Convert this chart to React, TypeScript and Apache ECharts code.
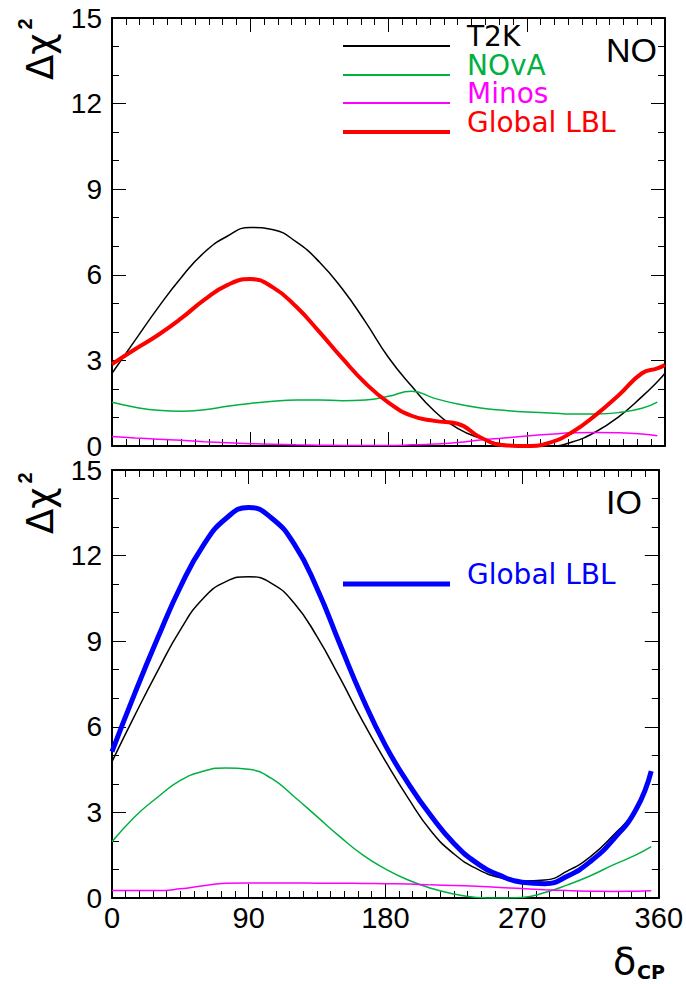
import React, { useEffect, useRef } from "react";
import * as echarts from "echarts";

// delta_CP grid (degrees)
const deltaCP = [0, 15, 30, 45, 60, 75, 90, 105, 120, 135, 150, 165, 180, 195, 210, 225, 240, 255, 270, 285, 300, 315, 330, 345, 355, 360];

// Normal ordering (top panel)
const noT2K = [2.55, 3.7, 4.85, 5.9, 6.78, 7.35, 7.66, 7.58, 7.15, 6.45, 5.5, 4.35, 3.1, 2.1, 1.22, 0.62, 0.27, 0.06, 0.0, 0.0, 0.15, 0.50, 1.03, 1.73, 2.25, 2.55];
const noNOvA = [1.53, 1.36, 1.25, 1.22, 1.27, 1.39, 1.49, 1.57, 1.61, 1.61, 1.59, 1.61, 1.74, 1.92, 1.67, 1.47, 1.33, 1.25, 1.19, 1.16, 1.12, 1.12, 1.17, 1.32, 1.54, null];
const noMinos = [0.33, 0.28, 0.24, 0.2, 0.15, 0.11, 0.08, 0.06, 0.04, 0.03, 0.02, 0.02, 0.02, 0.04, 0.07, 0.12, 0.21, 0.28, 0.35, 0.41, 0.46, 0.47, 0.46, 0.42, 0.36, null];
const noGlobal = [2.87, 3.39, 3.89, 4.47, 5.12, 5.64, 5.85, 5.55, 4.88, 4.0, 3.07, 2.2, 1.52, 1.06, 0.88, 0.78, 0.3, 0.03, 0.0, 0.12, 0.50, 1.09, 1.79, 2.55, 2.72, 2.84];

// Inverted ordering (bottom panel)
const ioT2K = [4.78, 6.4, 7.95, 9.4, 10.5, 11.09, 11.26, 11.03, 10.33, 9.16, 7.72, 6.2, 4.8, 3.5, 2.35, 1.55, 1.03, 0.72, 0.6, 0.63, 0.95, 1.45, 2.2, 3.1, 4.3, null];
const ioNOvA = [1.97, 2.85, 3.53, 4.12, 4.44, 4.56, 4.51, 4.19, 3.55, 2.85, 2.15, 1.51, 1.02, 0.63, 0.34, 0.14, 0.02, 0.0, 0.02, 0.19, 0.46, 0.78, 1.16, 1.51, 1.80, null];
const ioMinos = [0.26, 0.26, 0.26, 0.32, 0.43, 0.52, 0.53, 0.53, 0.53, 0.52, 0.52, 0.51, 0.5, 0.49, 0.46, 0.44, 0.41, 0.37, 0.33, 0.29, 0.26, 0.24, 0.23, 0.24, 0.25, null];
const ioGlobal = [5.13, 7.17, 9.1, 10.9, 12.35, 13.3, 13.69, 13.32, 12.4, 10.85, 8.9, 7.0, 5.35, 4.02, 2.88, 1.92, 1.23, 0.8, 0.55, 0.5, 0.77, 1.28, 2.05, 3.1, 4.45, null];

const xTicks = { min: 0, max: 360, interval: 90 };
const yTicks = { min: 0, max: 15, interval: 3 };

const legendNames = ["T2K", "NOvA", "Minos", "Global LBL"];
const GREEN = "#00b040";
const MAGENTA = "#ff00ff";

const pairs = (vals: (number | null)[]) =>
  deltaCP.map((x, i) => [x, vals[i]]).filter((p) => p[1] !== null);

function xAxis(gridIndex: number, position: string, showLabel: boolean) {
  return {
    type: "value",
    gridIndex,
    position,
    min: xTicks.min,
    max: xTicks.max,
    interval: xTicks.interval,
    axisLine: { show: true, onZero: false, lineStyle: { color: "#000", width: 2 } },
    axisTick: { show: true, inside: true, length: 14, lineStyle: { color: "#000", width: 1 } },
    minorTick: { show: true, splitNumber: 10, length: 7, lineStyle: { color: "#000", width: 1 } },
    splitLine: { show: false },
    minorSplitLine: { show: false },
    axisLabel: {
      show: showLabel,
      fontFamily: "Liberation Sans",
      fontSize: 29,
      color: "#000",
      margin: 5,
      showMinLabel: true,
      showMaxLabel: true,
    },
  };
}

function yAxis(gridIndex: number, position: string, showLabel: boolean) {
  return {
    type: "value",
    gridIndex,
    position,
    min: yTicks.min,
    max: yTicks.max,
    interval: yTicks.interval,
    axisLine: { show: true, onZero: false, lineStyle: { color: "#000", width: 2 } },
    axisTick: { show: true, inside: true, length: 14, lineStyle: { color: "#000", width: 1 } },
    minorTick: { show: true, splitNumber: 3, length: 7, lineStyle: { color: "#000", width: 1 } },
    splitLine: { show: false },
    minorSplitLine: { show: false },
    axisLabel: {
      show: showLabel,
      fontFamily: "Liberation Sans",
      fontSize: 28,
      lineHeight: 20,
      color: "#000",
      margin: 10,
      showMinLabel: true,
      showMaxLabel: true,
    },
  };
}

function line(name: string, vals: (number | null)[], color: string, width: number, axis: number) {
  return {
    type: "line",
    name,
    xAxisIndex: axis,
    yAxisIndex: axis,
    data: pairs(vals),
    showSymbol: false,
    symbol: "none",
    smooth: 0.5,
    silent: true,
    lineStyle: { color, width },
    itemStyle: { color },
  };
}

function legendEntry(label: string, color: string, width: number, y: number) {
  return [
    { type: "line", shape: { x1: 343, y1: y, x2: 450, y2: y }, style: { stroke: color, lineWidth: width } },
    {
      type: "text",
      x: 467,
      y: y - 10,
      style: {
        text: label,
        fill: color,
        fontSize: 28,
        lineHeight: 24,
        fontFamily: "DejaVu Sans",
        align: "left",
        verticalAlign: "middle",
      },
    },
  ];
}

function yTitle(yStart: number) {
  return [
    {
      type: "text",
      x: 40,
      y: yStart,
      rotation: Math.PI / 2,
      style: {
        text: "Δχ",
        fill: "#000",
        fontSize: 37,
        fontFamily: "DejaVu Sans",
        align: "left",
        verticalAlign: "middle",
      },
    },
    {
      type: "text",
      x: 25,
      y: yStart - 56,
      rotation: Math.PI / 2,
      style: {
        text: "2",
        fill: "#000",
        fontSize: 20,
        fontWeight: "bold",
        fontFamily: "Liberation Sans",
        align: "center",
        verticalAlign: "middle",
      },
    },
  ];
}

export default function App() {
  const ref = useRef<HTMLDivElement>(null);
  useEffect(() => {
    const chart = echarts.init(ref.current as HTMLDivElement, null, { renderer: "svg" });
    const option = {
      animation: false,
      backgroundColor: "#fff",
      grid: [
        { left: 112, top: 18, width: 553, height: 428 },
        { left: 112, top: 470, width: 553, height: 428 },
      ],
      xAxis: [
        xAxis(0, "bottom", false),
        xAxis(0, "top", false),
        xAxis(1, "bottom", true),
        xAxis(1, "top", false),
      ],
      yAxis: [
        yAxis(0, "left", true),
        yAxis(0, "right", false),
        yAxis(1, "left", true),
        yAxis(1, "right", false),
      ],
      series: [
        line(legendNames[0], noT2K, "#000", 1.5, 0),
        line(legendNames[1], noNOvA, GREEN, 1.5, 0),
        line(legendNames[2], noMinos, MAGENTA, 1.5, 0),
        line(legendNames[3], noGlobal, "#ff0000", 4, 0),
        line(legendNames[0], ioT2K, "#000", 1.5, 2),
        line(legendNames[1], ioNOvA, GREEN, 1.5, 2),
        line(legendNames[2], ioMinos, MAGENTA, 1.5, 2),
        line(legendNames[3] + " IO", ioGlobal, "#0000ff", 5, 2),
      ],
      graphic: [
        ...legendEntry(legendNames[0], "#000", 2, 46),
        ...legendEntry(legendNames[1], GREEN, 2, 75),
        ...legendEntry(legendNames[2], MAGENTA, 2, 103),
        ...legendEntry(legendNames[3], "#ff0000", 4, 132),
        ...legendEntry(legendNames[3], "#0000ff", 5, 584),
        {
          type: "text",
          x: 606,
          y: 50,
          style: { text: "NO", fill: "#000", fontSize: 34, fontFamily: "Liberation Sans", align: "left", verticalAlign: "middle" },
        },
        {
          type: "text",
          x: 606,
          y: 502,
          style: { text: "IO", fill: "#000", fontSize: 34, fontFamily: "Liberation Sans", align: "left", verticalAlign: "middle" },
        },
        ...yTitle(80),
        ...yTitle(534),
        {
          type: "text",
          x: 613,
          y: 961,
          style: { text: "δ", fill: "#000", fontSize: 38, fontFamily: "DejaVu Sans", align: "left", verticalAlign: "middle" },
        },
        {
          type: "text",
          x: 637,
          y: 972,
          style: { text: "CP", fill: "#000", fontSize: 19, fontWeight: "bold", fontFamily: "DejaVu Sans", align: "left", verticalAlign: "middle" },
        },
      ],
    };
    chart.setOption(option as any);
    return () => chart.dispose();
  }, []);
  return (
    <div
      ref={ref}
      style={{ position: "fixed", left: 0, top: 0, width: 686, height: 984, background: "#fff" }}
    />
  );
}
